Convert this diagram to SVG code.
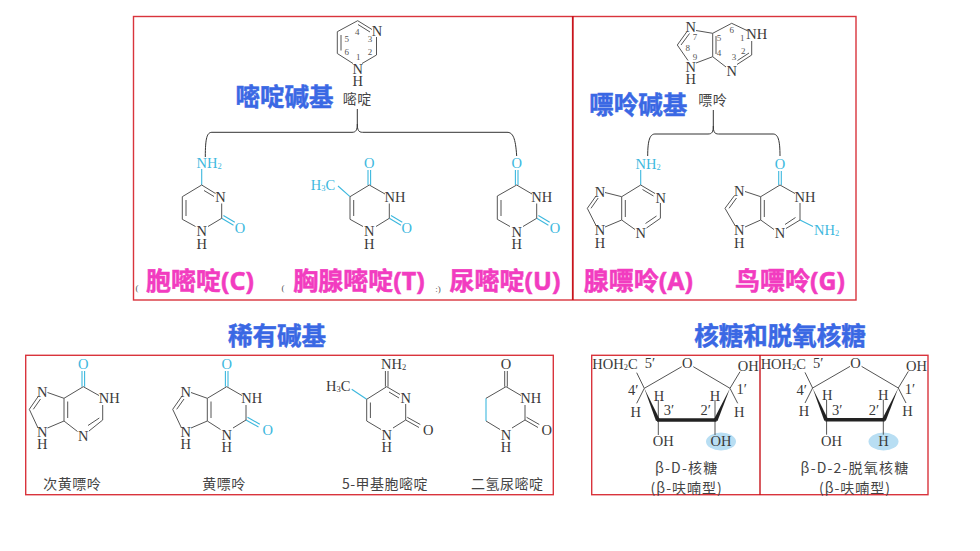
<svg xmlns="http://www.w3.org/2000/svg" width="980" height="551" viewBox="0 0 980 551">
<style>
text{font-family:"Liberation Serif","Noto Sans CJK SC",serif;text-anchor:middle;dominant-baseline:central;fill:#3a3a3a;font-size:14.5px}
.b{fill:none;stroke:#555;stroke-width:1}
.c{fill:none;stroke:#3db8de;stroke-width:1.1}
.br{fill:none;stroke:#333;stroke-width:1}
.p{fill:none;stroke:#d9343c;stroke-width:1.4}
.pd{fill:none;stroke:#c8141c;stroke-width:1.8}
text.tc{fill:#3db8de}
text.n{font-size:9px;fill:#555}
text.z{font-family:"Noto Sans CJK SC",sans-serif;font-size:14px;fill:#444;letter-spacing:.5px}
text.zs{font-family:"Noto Sans CJK SC",sans-serif;font-size:14px;fill:#444;letter-spacing:1px}
text.h{font-family:"Noto Sans","Noto Sans CJK SC",sans-serif;font-weight:700;font-size:24.5px;fill:#3a68e4;stroke:#3a68e4;stroke-width:.5}
text.k{font-family:"Noto Sans","Noto Sans CJK SC",sans-serif;font-weight:700;font-size:25px;fill:#f23cc0;stroke:#f23cc0;stroke-width:.5}
text.m{font-size:9px;fill:#555}
.w{fill:#222;stroke:none}
.thick{fill:none;stroke:#222;stroke-width:3.6}
.sub{font-size:8.5px}
</style>

<g id="panels">
<rect class="p" x="133.5" y="16.5" width="722.5" height="283.5"/>
<line class="pd" x1="572.8" y1="16" x2="572.8" y2="300"/>
<rect class="p" x="25.7" y="355.3" width="527.6" height="139.4"/>
<rect class="p" x="591.7" y="355.3" width="336.3" height="139.4"/>
<line class="pd" x1="760" y1="355" x2="760" y2="495" style="stroke-width:1.4"/>
</g>

<g id="connectors">
<path class="br" d="M357.3 109V124C357.3 130 356 132.3 352 132.3H212C207 132.3 205.3 138 205.3 157"/>
<path class="br" d="M357.3 124C357.3 130 358.6 132.3 362.6 132.3H507C513 132.3 515.5 138 516.7 156"/>
<path class="br" d="M713.3 110V126C713.3 132 712 134 708 134H655C650 134 647.7 140 647.7 156"/>
<path class="br" d="M713.3 126C713.3 132 714.6 134 718.6 134H773C778 134 780 140 780 156"/>
</g>

<g id="headings">
<text class="h" x="284.5" y="96">嘧啶碱基</text>
<text class="h" x="638.3" y="104">嘌呤碱基</text>
<text class="h" x="277" y="335">稀有碱基</text>
<text class="h" x="780" y="335">核糖和脱氧核糖</text>
</g>

<g id="pyrimidine">
<path class="b" d="M357.7 20.7L372 29.5M376.5 37V55L362 63.5M353 63.5L337.3 53.5V31.7L357.7 20.7M358 24.5L370 32M341 35V50.5"/>
<text x="377" y="30.7">N</text><text x="357.7"><tspan x="357.7" y="69">N</tspan><tspan x="357.7" y="80.7">H</tspan></text>
<text class="n" x="357.3" y="32.3">4</text><text class="n" x="346.7" y="39">5</text><text class="n" x="370" y="39">3</text><text class="n" x="346.7" y="52.3">6</text><text class="n" x="370" y="51.7">2</text><text class="n" x="358.3" y="56.7">1</text>
<text class="z" x="357.3" y="98.3">嘧啶</text>
</g>

<g id="purine">
<path class="b" d="M696 30.5L712.7 33.3L731.7 23.3L748 31M751.7 41V55L737 64.5M726 67L712.7 56.7V33.3M716 36V54M712.7 56.7L696 63M688 60.5L677.3 45L687 31.5M681 45L689.5 33.5M749 53L737.5 60.5"/>
<text x="690.7" y="26.7">N</text><text><tspan x="690.7" y="66.7">N</tspan><tspan x="690.7" y="79">H</tspan></text><text x="756.7" y="34">NH</text><text x="731.7" y="71">N</text>
<text class="n" x="695" y="37.3">7</text><text class="n" x="687.7" y="47.7">8</text><text class="n" x="695" y="56.7">9</text><text class="n" x="719" y="37.7">5</text><text class="n" x="719" y="53.3">4</text><text class="n" x="731.7" y="30">6</text><text class="n" x="742.3" y="37.7">1</text><text class="n" x="743.3" y="51.3">2</text><text class="n" x="734" y="57.3">3</text>
<text class="z" x="712.7" y="99.3">嘌呤</text>
</g>

<g id="cytosine">
<path class="c" d="M201.7 185V169M221.7 218.3L233.5 225.3M223.4 215.5L234.8 222.3"/>
<path class="b" d="M201.7 185L215.5 193.5M204 190.5L214 196.5M221.7 203.5V218.3L208 226.5M195.5 226.5L182.3 219.3V196.7L201.7 185M186 200V216"/>
<text class="tc" x="196.5" y="162.7" style="text-anchor:start">NH<tspan class="sub" dy="3">2</tspan></text>
<text x="220.5" y="197">N</text><text><tspan x="201.7" y="230.5">N</tspan><tspan x="201.7" y="244.3">H</tspan></text>
<text class="tc" x="240" y="228.3">O</text>
</g>

<g id="thymine">
<path class="c" d="M368 185V170M370.6 185V170M389.3 218.3L401 225.3M391 215.5L402.3 222.3M350 196.7L338 186"/>
<path class="b" d="M369.3 185L385 194M389.3 203.5V218.3L376 226.5M363 226.5L350 219.3V196.7L369.3 185M353.7 200V216"/>
<text class="tc" x="369.3" y="162.7">O</text><text class="tc" x="406.7" y="228.3">O</text>
<text class="tc" x="323" y="184.7">H<tspan class="sub" dy="3">3</tspan><tspan dy="-3">C</tspan></text>
<text x="395" y="196.7">NH</text><text><tspan x="369.3" y="230.7">N</tspan><tspan x="369.3" y="244.3">H</tspan></text>
</g>

<g id="uracil">
<path class="c" d="M515.4 185V170M518 185V170M536.7 218.3L548.4 225.3M538.4 215.5L549.7 222.3"/>
<path class="b" d="M516.7 185L532 194M536.7 203.5V218.3L523 226.5M510 226.5L497.3 219.3V196L516.7 185M501 200V216"/>
<text class="tc" x="516.7" y="162.7">O</text><text class="tc" x="555" y="228.3">O</text>
<text x="541.7" y="196.7">NH</text><text><tspan x="516.7" y="231.7">N</tspan><tspan x="516.7" y="244.3">H</tspan></text>
</g>

<g id="adenine">
<path class="c" d="M640.7 185V170"/>
<path class="b" d="M640.7 185L655 193.5M642.5 189.5L653.5 196M660.4 203V218.3L646.5 228M656.5 216L645.5 223.5M635 229.5L621.7 220V196.7L640.7 185M625.3 200V217M621.7 196.7L605 192.5M621.7 220L605 227M596 225.5L587.3 208.3L596 196M591 208.3L598.2 198"/>
<text class="tc" x="635.5" y="163.5" style="text-anchor:start">NH<tspan class="sub" dy="3">2</tspan></text>
<text x="600" y="191.7">N</text><text x="660.7" y="197.7">N</text><text x="640.7" y="233.3">N</text><text><tspan x="600" y="230">N</tspan><tspan x="600" y="242.7">H</tspan></text>
</g>

<g id="guanine">
<path class="c" d="M778.7 185V171M781.3 185V171M800 220L813 226.5"/>
<path class="b" d="M780 185L795 193.5M800 203V220L786 228.5M795.5 217.5L785 224.5M774 229.5L760.7 220V196.7L780 185M764.3 200V217M760.7 196.7L745 191.5M760.7 220L745 227M735 225.5L725 208.3L734.5 195.5M729 208.3L736.5 198"/>
<text class="tc" x="780" y="164">O</text>
<text class="tc" x="814" y="230" style="text-anchor:start">NH<tspan class="sub" dy="3">2</tspan></text>
<text x="739.3" y="190.7">N</text><text x="805" y="196.7">NH</text><text x="780" y="233.3">N</text><text><tspan x="739.3" y="230">N</tspan><tspan x="739.3" y="242.7">H</tspan></text>
</g>

<g id="labels-top">
<text class="k" x="200" y="280">胞嘧啶(C)</text>
<text class="k" x="359" y="280">胸腺嘧啶(T)</text>
<text class="k" x="505" y="280">尿嘧啶(U)</text>
<text class="k" x="638.3" y="280">腺嘌呤(A)</text>
<text class="k" x="790" y="280">鸟嘌呤(G)</text>
<text class="m" x="137" y="288">(</text>
<text class="m" x="283" y="288">(</text>
<text class="m" x="438" y="289">:)</text>
</g>

<g id="hypoxanthine">
<path class="c" d="M82 386.7V371M84.6 386.7V371"/>
<path class="b" d="M83.3 386.7L99 395.5M102.7 405V420L89 431M99.3 418L88 425.5M77.5 431.5L64 421V398.3L83.3 386.7M67.7 401.5V418M64 398.3L47.5 392.5M64 421L47.5 428M38 428L29.3 409.3L38.5 396M33.3 409.3L40.5 399"/>
<text class="tc" x="83.3" y="364">O</text>
<text x="42.3" y="391.7">N</text><text x="109.3" y="398.3">NH</text><text x="83.3" y="435.7">N</text><text><tspan x="42.3" y="431.7">N</tspan><tspan x="42.3" y="444.3">H</tspan></text>
<text class="z" x="72.3" y="482.7">次黄嘌呤</text>
</g>

<g id="xanthine">
<path class="c" d="M225.4 386.7V371M228 386.7V371M246 420L258.5 427M247.5 417.3L259.8 424.2"/>
<path class="b" d="M226.7 386.7L242 395.5M246 405V420L233 428M220.5 429.5L207.3 421V398.3L226.7 386.7M211 401.5V418M207.3 398.3L191 392.5M207.3 421L191 428M181.5 428L172.7 409.3L182 396M176.7 409.3L184 399"/>
<text class="tc" x="226.7" y="364">O</text><text class="tc" x="267.7" y="430">O</text>
<text x="185.7" y="391.7">N</text><text x="251.7" y="398.3">NH</text><text><tspan x="226.7" y="435">N</tspan><tspan x="226.7" y="446.7">H</tspan></text><text><tspan x="185.7" y="431.7">N</tspan><tspan x="185.7" y="444.3">H</tspan></text>
<text class="z" x="224" y="482.7">黄嘌呤</text>
</g>

<g id="methylcytosine">
<path class="c" d="M366.7 399.3L351.7 389.3"/>
<path class="b" d="M385.4 386.7V371M388 386.7V371M386.7 386.7L400 394.5M389 392L399 398M405.7 404V420L393 428M381 429.5L366.7 421V399.3L386.7 386.7M370.4 402.5V418M405.7 420L419 427.5M407.3 417.3L420.3 424.5"/>
<text x="381" y="364" style="text-anchor:start">NH<tspan class="sub" dy="3">2</tspan></text>
<text x="338.3" y="386">H<tspan class="sub" dy="3">3</tspan><tspan dy="-3">C</tspan></text>
<text x="405.7" y="398.3">N</text><text><tspan x="386.7" y="435">N</tspan><tspan x="386.7" y="446.7">H</tspan></text><text x="428.3" y="430">O</text>
<text class="z" x="385" y="483.3">5-甲基胞嘧啶</text>
</g>

<g id="dihydrouracil">
<path class="c" d="M486 398.3V421"/>
<path class="b" d="M504.7 386.7V371M507.3 386.7V371M506 386.7L521 395.5M525 405V420L512 428M500 429.5L486 421M486 398.3L506 386.7M525 420L538 427.5M526.6 417.3L539.3 424.5"/>
<text x="506" y="364">O</text><text x="530.7" y="398.3">NH</text><text><tspan x="506" y="435">N</tspan><tspan x="506" y="446.7">H</tspan></text><text x="546.7" y="430">O</text>
<text class="z" x="507.3" y="483.3">二氢尿嘧啶</text>
</g>

<g id="ribose">
<ellipse cx="721" cy="441.5" rx="15" ry="9" fill="#b8def3"/>
<path class="b" d="M644.3 388.3L681.7 366.7M693.3 366.7L730 388.3M644.3 388.3L636.7 403.3M730 388.3L737.7 403.3M658.3 420V400M715 420V400M658.3 420V435M715 420V435M730 388.3L740 371.7M644.3 388.3L636.7 372.7"/>
<path class="thick" d="M657 420H716.5"/>
<polygon class="w" points="644.3,388.3 660,420 656,421"/>
<polygon class="w" points="730,388.3 713.5,420 717.5,421"/>
<text x="615" y="364">HOH<tspan class="sub" dy="3">2</tspan><tspan dy="-3">C</tspan></text>
<text x="650" y="363.3">5′</text><text x="687.3" y="363.3">O</text><text x="748.3" y="366">OH</text>
<text x="633.3" y="390">4′</text><text x="741.7" y="389.3">1′</text>
<text x="635.7" y="411.7">H</text><text x="739.3" y="411.7">H</text><text x="659" y="395.7">H</text><text x="715" y="395.7">H</text>
<text x="669" y="410">3′</text><text x="705.7" y="410">2′</text>
<text x="663.3" y="441">OH</text><text x="721" y="441">OH</text>
<text class="z" x="686.7" y="466.7" style="letter-spacing:1.2px">β-D-核糖</text>
<text class="zs" x="686.7" y="486.7">(β-呋喃型)</text>
</g>

<g id="deoxyribose">
<ellipse cx="883.5" cy="441.5" rx="15" ry="9" fill="#b8def3"/>
<path class="b" d="M812.6 388L850 366.4M861.6 366.4L898.3 388M812.6 388L805 403M898.3 388L906 403M826.6 419.7V399.7M883.3 419.7V399.7M826.6 419.7V434.7M883.3 419.7V434.7M898.3 388L908.3 371.4M812.6 388L805 372.4"/>
<path class="thick" d="M825.3 419.7H884.8"/>
<polygon class="w" points="812.6,388 828.3,419.7 824.3,420.7"/>
<polygon class="w" points="898.3,388 881.8,419.7 885.8,420.7"/>
<text x="783.3" y="363.7">HOH<tspan class="sub" dy="3">2</tspan><tspan dy="-3">C</tspan></text>
<text x="818.3" y="363">5′</text><text x="855.6" y="363">O</text><text x="916.6" y="365.7">OH</text>
<text x="801.6" y="389.7">4′</text><text x="910" y="389">1′</text>
<text x="804" y="411.4">H</text><text x="907.6" y="411.4">H</text><text x="827.3" y="395.4">H</text><text x="883.3" y="395.4">H</text>
<text x="837.3" y="409.7">3′</text><text x="874" y="409.7">2′</text>
<text x="831.6" y="440.7">OH</text><text x="883.5" y="441">H</text>
<text class="z" x="855" y="466.7" style="letter-spacing:1.2px">β-D-2-脱氧核糖</text>
<text class="zs" x="855" y="486.7">(β-呋喃型)</text>
</g>
</svg>
